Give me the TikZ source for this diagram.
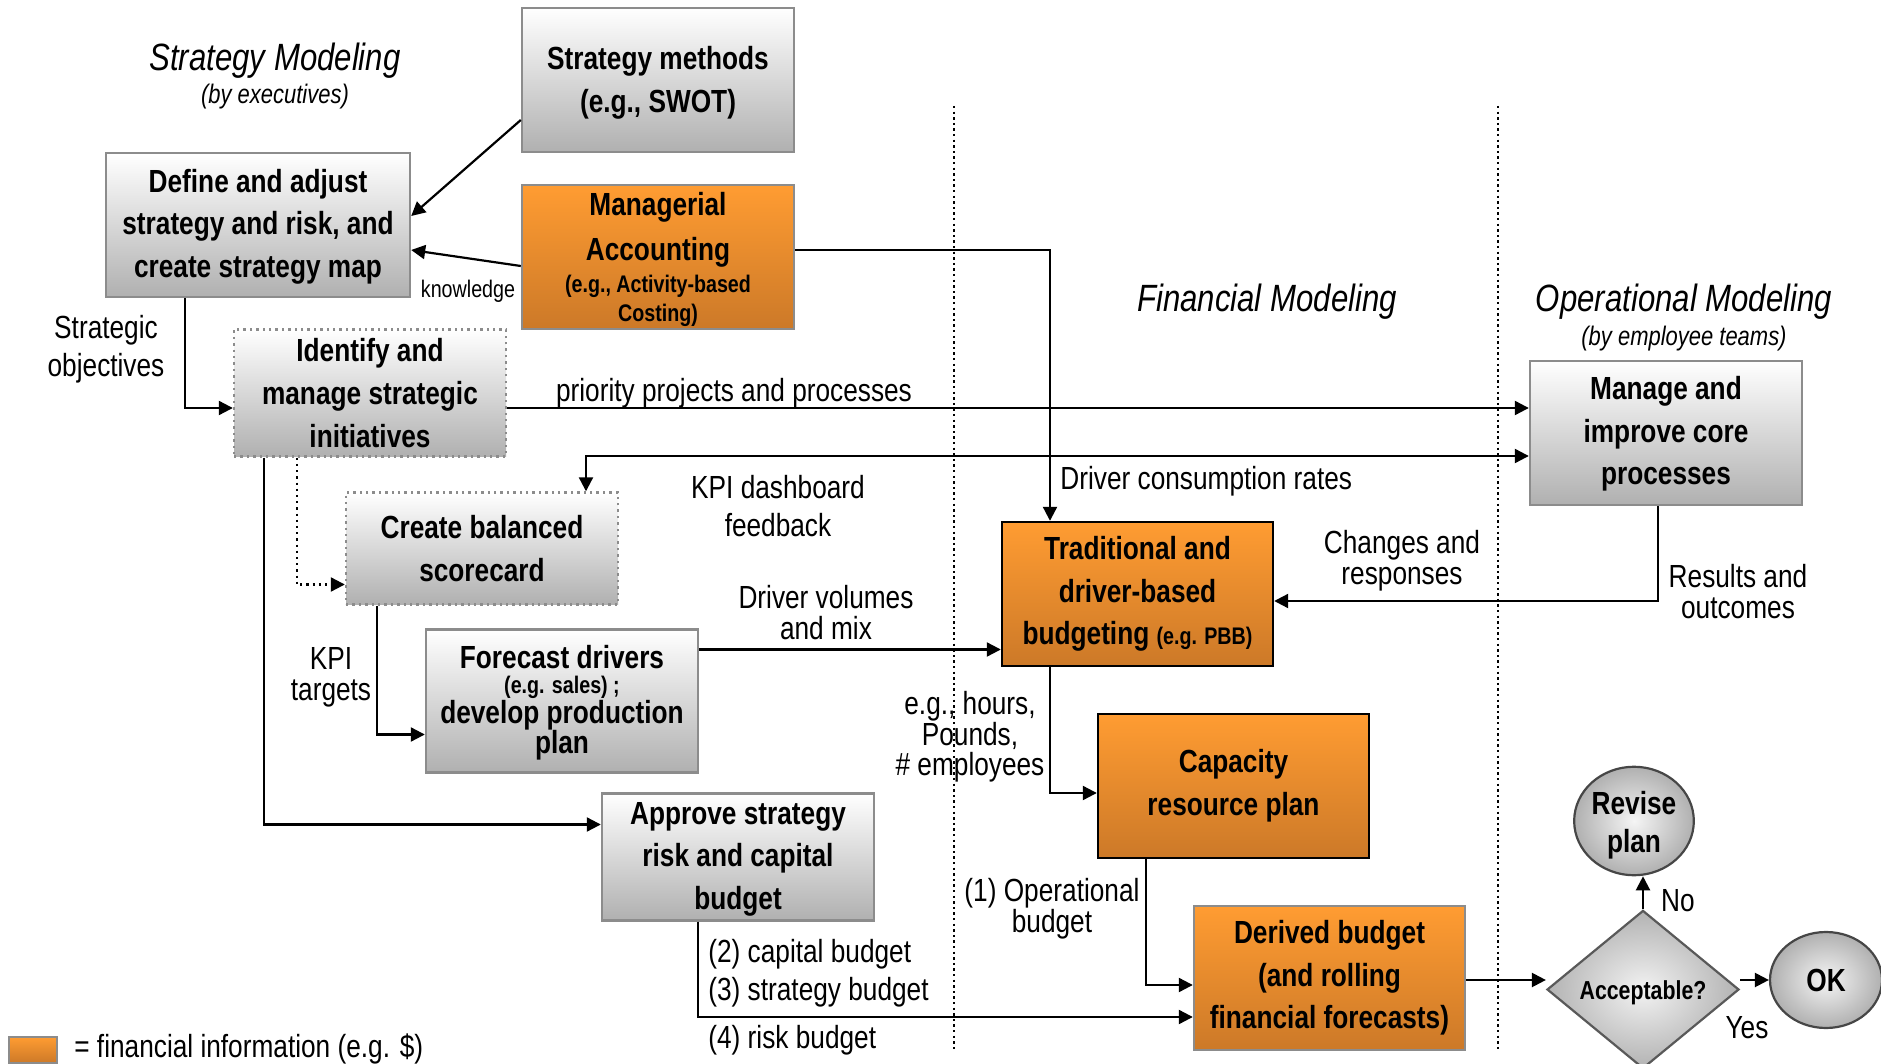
\documentclass[tikz,border=0pt]{standalone}
\usepackage{fontspec}
\setmainfont{Liberation Sans}[FakeStretch=0.82]
\usetikzlibrary{arrows.meta,shapes.geometric}
\definecolor{gbot}{RGB}{176,176,176}
\definecolor{otop}{RGB}{255,156,50}
\definecolor{obot}{RGB}{204,121,40}
\definecolor{gline}{RGB}{140,140,140}
\definecolor{dline}{RGB}{70,70,70}
\newcommand{\boxfont}{\fontsize{16}{21.3}\selectfont\bfseries}
\newcommand{\smallbold}{\fontsize{12}{14}\selectfont\bfseries}
\newcommand{\lblfont}{\fontsize{16}{19}\selectfont}
\newcommand{\lift}[1]{\rule{0pt}{#1}}
\begin{document}
\begin{tikzpicture}[x=0.5pt,y=-0.5pt,
  basebox/.style={rectangle,inner sep=0pt,align=center,font=\boxfont,line width=1.2pt},
  gbox/.style={basebox,draw=gline,top color=white,bottom color=gbot},
  gdot/.style={basebox,draw=gline,dotted,top color=white,bottom color=gbot},
  obox/.style={basebox,draw=gline,top color=otop,bottom color=obot},
  obk/.style={basebox,draw=black,top color=otop,bottom color=obot},
  roundbox/.style={ellipse,inner sep=0pt,align=center,font=\fontsize{16}{19}\selectfont\bfseries,draw=dline,line width=1.1pt,
    shading=radial,inner color=gray!8,outer color=gray!62},
  lbl/.style={inner sep=0pt,align=center,font=\lblfont},
  tight/.style={font=\fontsize{16}{15.5}\selectfont},
  title/.style={inner sep=0pt,align=center,font=\fontsize{19}{22}\selectfont\itshape},
  subtitle/.style={inner sep=0pt,align=center,font=\fontsize{13.4}{16}\selectfont\itshape},
  arr/.style={line width=1.1pt,-{Triangle[length=7pt,width=7pt]}},
  dblarr/.style={line width=1.1pt,{Triangle[length=7pt,width=7pt]}-{Triangle[length=7pt,width=7pt]}},
  lane/.style={line width=0.6pt,dash pattern=on 1.2pt off 1.6pt}
]
\useasboundingbox (0,0) rectangle (1881,1064);

% lane separators
\draw[lane] (954,106) -- (954,1050);
\draw[lane] (1498,106) -- (1498,1050);

% lane titles
\node[title] (tstrat) at (275,61) {Strategy Modeling};
\node[subtitle] (tstrat2) at (275,97) {(by executives)};
\node[title] (tfin) at (1267,302) {Financial Modeling};
\node[title] (tops) at (1684,302) {Operational Modeling};
\node[subtitle] (tops2) at (1684,339) {(by employee teams)};

% process boxes
\node[gbox,minimum width=136pt,minimum height=72pt] (smeth) at (658,80) {\lift{14.5pt}Strategy methods\\(e.g., SWOT)};
\node[gbox,minimum width=152pt,minimum height=72pt] (define) at (258,225) {\lift{13pt}Define and adjust\\strategy and risk, and\\create strategy map};
\node[obox,minimum width=136pt,minimum height=72pt] (macct) at (658,257) {\lift{14pt}Managerial\\[1.2pt]Accounting\\[-5.4pt]{\smallbold (e.g., Activity-based}\\[-7pt]{\smallbold Costing)}};
\node[gdot,minimum width=136pt,minimum height=63.5pt] (ident) at (370,393) {Identify and\\manage strategic\\initiatives};
\node[gdot,minimum width=136pt,minimum height=56pt] (bsc) at (482,548.5) {Create balanced\\scorecard};
\node[gbox,minimum width=136pt,minimum height=71.5pt,font=\fontsize{16}{12.5}\selectfont\bfseries] (fcst) at (562,701) {\lift{13pt}Forecast drivers\\{\fontsize{12}{12.5}\selectfont (e.g. sales) ;}\\develop production\\[-1pt]plan};
\node[gbox,minimum width=136pt,minimum height=63.5pt] (appr) at (738,857) {\lift{13pt}Approve strategy\\risk and capital\\budget};
\node[obk,minimum width=135.5pt,minimum height=72pt] (trad) at (1137.5,594) {Traditional and\\driver-based\\budgeting {\smallbold (e.g. PBB)}};
\node[obk,minimum width=135.5pt,minimum height=72pt] (cap) at (1233.5,786) {Capacity\\resource plan};
\node[obox,minimum width=135.5pt,minimum height=72pt] (derv) at (1329.5,978) {Derived budget\\(and rolling\\financial forecasts)};
\node[gbox,minimum width=136pt,minimum height=72pt] (mng) at (1666,433) {\lift{12.5pt}Manage and\\improve core\\processes};

% decision
\node[diamond,inner sep=0pt,draw=gray!70!black,line width=1.1pt,shading=radial,inner color=gray!10,outer color=gray!60,
  minimum width=96pt,minimum height=71.5pt,font=\fontsize{13}{15}\selectfont\bfseries] (acc) at (1643,989.5) {\lift{13pt}Acceptable?};
\node[roundbox,minimum width=56pt,minimum height=48pt] (revise) at (1634,821) {\lift{16pt}Revise\\plan};
\node[roundbox,minimum width=56pt,minimum height=48pt] (ok) at (1826,980) {OK};

% connectors
\draw[arr] ([yshift=-20pt]smeth.west) -- ([yshift=4.5pt]define.east);
\draw[arr] ([yshift=-4.5pt]macct.west) -- ([yshift=-12.5pt]define.east);
\draw[arr] ([xshift=40pt]define.south west) |- ([yshift=-7.5pt]ident.west);
\draw[arr] ([yshift=-7.5pt]ident.east) -- ([yshift=-7.5pt]ident.east -| mng.west);
\draw[dblarr] ([xshift=52pt]bsc.north) |- ([yshift=-11.5pt]mng.west);
\draw[arr] ([yshift=3.5pt]macct.east) -| ([xshift=-43.75pt]trad.north);
\draw[arr,dotted] ([xshift=32pt]ident.south west) |- ([yshift=-18pt]bsc.west);
\draw[arr] ([xshift=15.5pt]ident.south west) |- ([yshift=16.25pt]appr.west);
\draw[arr] ([xshift=16pt]bsc.south west) |- ([yshift=-16.75pt]fcst.west);
\draw[arr] ([yshift=25.75pt]fcst.east) -- ([yshift=25.75pt]fcst.east -| trad.west);
\draw[arr] ([xshift=-43.75pt]trad.south) |- ([yshift=-3.5pt]cap.west);
\draw[arr] ([xshift=-43.75pt]cap.south) |- ([yshift=-3.5pt]derv.west);
\draw[arr] ([xshift=-20pt]appr.south) |- ([yshift=-19.5pt]derv.west);
\draw[arr] ([xshift=-4pt]mng.south) |- ([yshift=-3.5pt]trad.east);
\draw[arr] (derv.east |- ok.west) -- (acc.west |- ok.west);
\draw[arr] (acc.north) -- (acc.north |- revise.south);
\draw[arr] (acc.east |- ok.west) -- (ok.west);

% connector labels
\node[lbl,font=\fontsize{12}{14}\selectfont] (lknow) at (468,291) {knowledge};
\node[lbl] (lobj) at (106,349) {Strategic\\objectives};
\node[lbl] (lprio) at (734,393) {priority projects and processes};
\node[lbl] (lkpi) at (778,506) {KPI dashboard\\feedback};
\node[lbl,anchor=west] (lcons) at (1060,481) {Driver consumption rates};
\node[lbl,tight] (ltarg) at (331,677) {KPI\\targets};
\node[lbl,tight] (lvol) at (826,613) {Driver volumes\\and mix};
\node[lbl,font=\fontsize{16}{15.3}\selectfont] (lhours) at (970,737) {e.g., hours,\\Pounds,\\\# employees};
\node[lbl,tight] (lop) at (1052,909) {(1) Operational\\budget};
\node[lbl,anchor=west] (lcapb) at (708,954) {(2) capital budget};
\node[lbl,anchor=west] (lstrb) at (708,992) {(3) strategy budget};
\node[lbl,anchor=west] (lrisk) at (708,1040) {(4) risk budget};
\node[lbl,tight] (lchg) at (1402,561) {Changes and\\responses};
\node[lbl,tight] (lres) at (1738,592) {Results and\\outcomes};
\node[lbl] (lno) at (1678,901) {No};
\node[lbl] (lyes) at (1747,1028) {Yes};

% legend
\node[obox,minimum width=24pt,minimum height=13pt] (legbox) at (33,1050) {};
\node[lbl,anchor=west] (legtxt) at (74,1049) {= financial information (e.g. \$)};
\end{tikzpicture}
\end{document}
